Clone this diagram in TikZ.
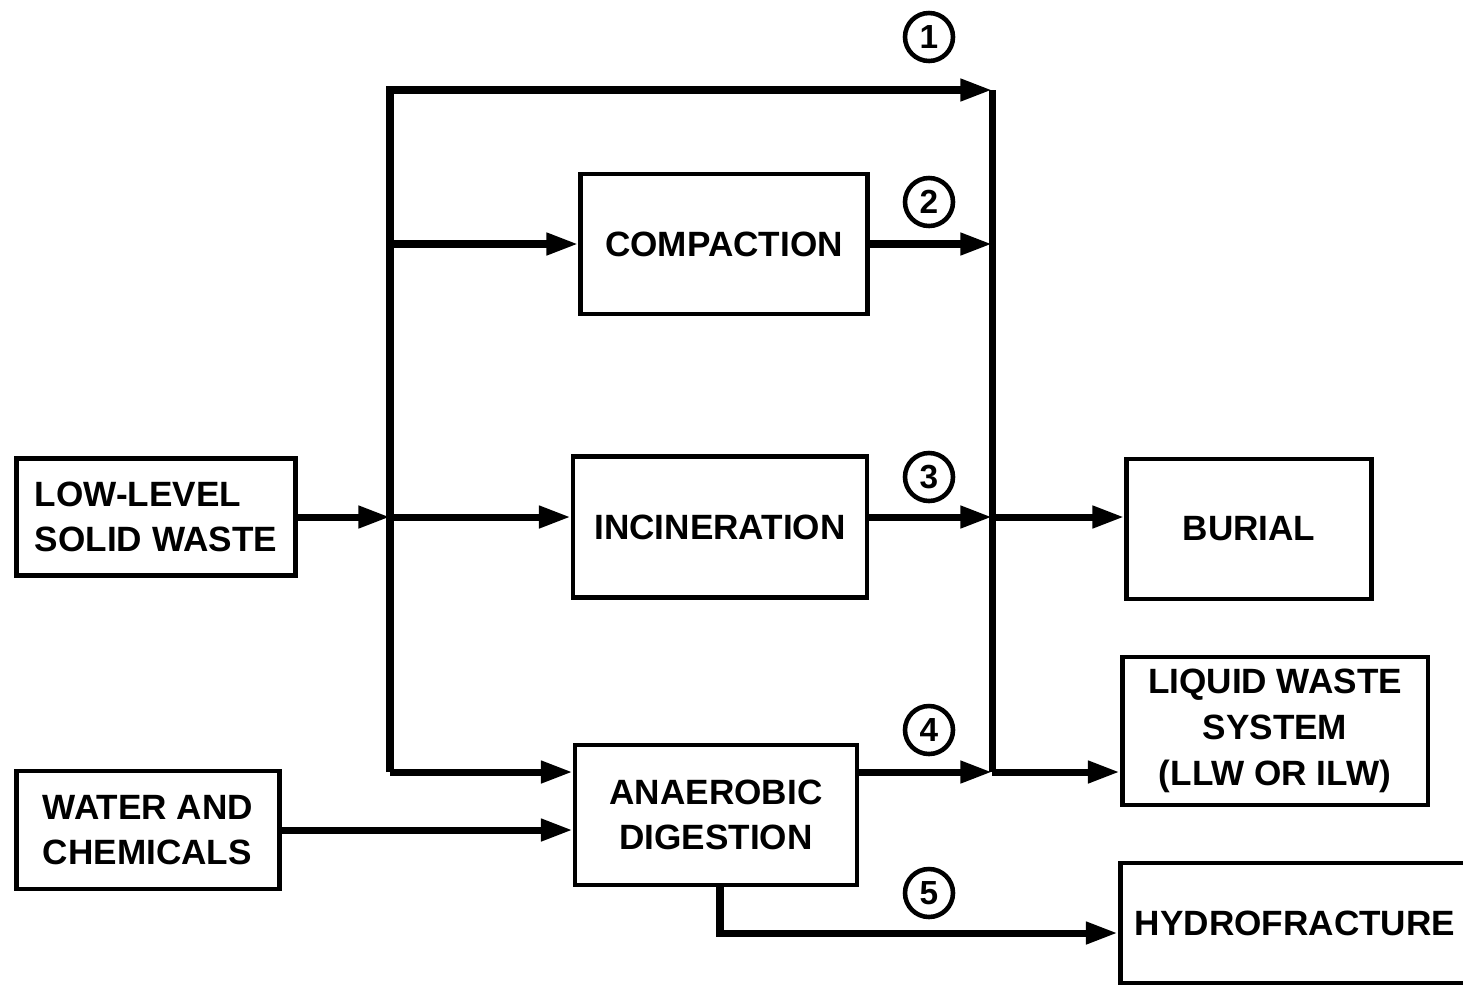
\documentclass[tikz,border=0pt]{standalone}
\usepackage{fontspec}
\setmainfont{Liberation Sans}
\usetikzlibrary{arrows.meta}
\tikzset{
  box/.style={draw, line width=2.8pt, font=\bfseries\fontsize{20}{26}\selectfont},
  bus/.style={line width=4pt},
  flow/.style={line width=4pt, -{Triangle[length=18pt,width=12pt]}},
  num/.style={draw, circle, line width=2.6pt, minimum size=0.96cm, inner sep=0pt, font=\bfseries\fontsize{19}{19}\selectfont}
}
\begin{document}
\begin{tikzpicture}[x=0.02cm,y=-0.02cm]
\clip (0,0) rectangle (1463,985);
\node[box, align=left, minimum width=5.58cm, minimum height=2.34cm] (lls) at (156,517) {LOW-LEVEL\\SOLID WASTE};
\node[box, align=left, minimum width=5.26cm, minimum height=2.36cm] (water) at (148,830) {WATER AND\\CHEMICALS};
\node[box, minimum width=5.74cm, minimum height=2.8cm] (comp) at (724,244) {COMPACTION};
\node[box, minimum width=5.88cm, minimum height=2.82cm] (inc) at (720,527) {INCINERATION};
\node[box, align=center, minimum width=5.64cm, minimum height=2.8cm] (anae) at (716,815) {ANAEROBIC\\DIGESTION};
\node[box, minimum width=4.9cm, minimum height=2.8cm] (burial) at (1249,529) {BURIAL};
\node[box, align=center, minimum width=6.12cm, minimum height=2.96cm] (liq) at (1275,731) {LIQUID WASTE\\SYSTEM\\(LLW OR ILW)};
\node[box, minimum width=7cm, minimum height=2.4cm] (hyd) at (1295,923) {HYDROFRACTURE};
\coordinate (tl) at (390,90);
\coordinate (tr) at (992,90);
\coordinate (bl) at (390,772);
\coordinate (br) at (992,772);
\coordinate (hd) at (720,933);
\draw[flow] (bl) -- (tl) -- (tr);
\draw[bus] (tr) -- (br);
\draw[flow] (lls) -- (lls -| tl);
\draw[flow] (lls -| tl) -- (lls -| inc.west);
\draw[flow] (lls -| inc.east) -- (lls -| tr);
\draw[flow] (lls -| tr) -- (lls -| burial.west);
\draw[flow] (comp.west -| tl) -- (comp.west);
\draw[flow] (comp.east) -- (comp.east -| tr);
\draw[flow] (bl) -- (bl -| anae.west);
\draw[flow] (water) -- (water -| anae.west);
\draw[flow] (bl -| anae.east) -- (br);
\draw[flow] (br) -- (br -| liq.west);
\draw[flow] (hd |- anae.south) -- (hd) -- (hd -| hyd.west);
\foreach \n/\y in {1/37,2/202,3/477,4/730,5/893}
    \node[num] (n\n) at (929,\y) {\n};
\end{tikzpicture}
\end{document}
